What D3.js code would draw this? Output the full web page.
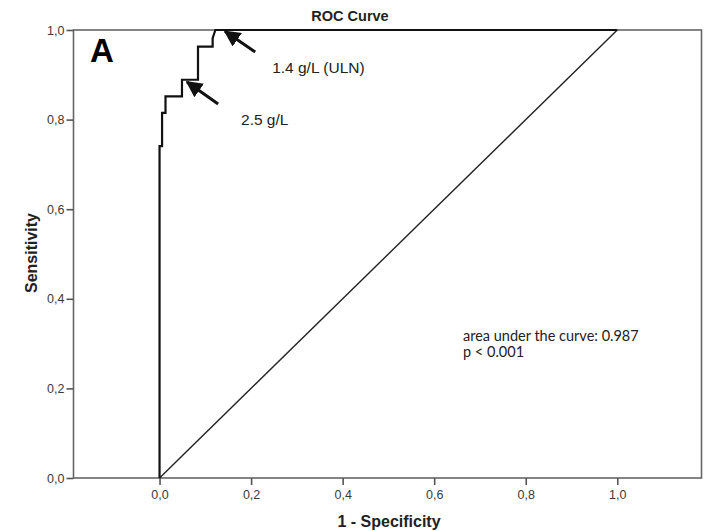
<!DOCTYPE html>
<html>
<head>
<meta charset="utf-8">
<script src="https://cdn.jsdelivr.net/npm/d3@7"></script>
<style>
  html, body { margin: 0; padding: 0; background: #fff; }
  svg { display: block; }
</style>
</head>
<body>
<svg id="chart" width="710" height="531"></svg>
<script>
// ROC curve vertices (1 - specificity, sensitivity)
const rocFpr = [0, 0, 0.0055, 0.0055, 0.013, 0.013, 0.049, 0.049, 0.084, 0.084, 0.116, 0.116, 0.122, 1.0];
const rocTpr = [0, 0.741, 0.741, 0.815, 0.815, 0.852, 0.852, 0.889, 0.889, 0.963, 0.963, 0.982, 1.0, 1.0];

// Reference (chance) line
const refFpr = [0, 1];
const refTpr = [0, 1];

// Tick values
const xTicks = [0, 0.2, 0.4, 0.6, 0.8, 1.0];
const yTicks = [0, 0.2, 0.4, 0.6, 0.8, 1.0];

// Cut-off annotations: arrow tail -> tip, label anchor
const cutLabels = ["1.4 g/L (ULN)", "2.5 g/L"];
const cutTipX = [0.143, 0.060];
const cutTipY = [0.997, 0.884];
const cutTailX = [0.209, 0.128];
const cutTailY = [0.951, 0.835];
const cutLabelX = [0.246, 0.178];
const cutLabelY = [0.905, 0.788];

const statLines = ["area under the curve: 0.987", "p < 0.001"];

const svg = d3.select("#chart");
const x = d3.scaleLinear().domain([-0.188, 1.184]).range([73.5, 701.5]);
const y = d3.scaleLinear().domain([0, 1]).range([478, 30]);
const fmt = d => d.toFixed(1).replace(".", ",");

// Frame
svg.append("rect")
  .attr("x", x.range()[0]).attr("y", y(1))
  .attr("width", x.range()[1] - x.range()[0]).attr("height", y(0) - y(1))
  .attr("fill", "none").attr("stroke", "#666").attr("stroke-width", 1.6);

// Axes
const xAxis = svg.append("g").attr("transform", `translate(0,${y(0)})`)
  .call(d3.axisBottom(x).tickValues(xTicks).tickFormat(fmt).tickSize(7).tickPadding(5));
const yAxis = svg.append("g").attr("transform", `translate(${x.range()[0]},0)`)
  .call(d3.axisLeft(y).tickValues(yTicks).tickFormat(fmt).tickSize(7).tickPadding(2));
[xAxis, yAxis].forEach(g => {
  g.select(".domain").remove();
  g.selectAll(".tick line").attr("stroke", "#555").attr("stroke-width", 1.6);
  g.selectAll(".tick text").attr("fill", "#3a3a3a")
    .style("font-family", "'Liberation Sans', Arial, sans-serif").style("font-size", "12.5px");
});

// Chance diagonal
const line = d3.line().x(d => x(d[0])).y(d => y(d[1]));
svg.append("path")
  .datum(d3.zip(refFpr, refTpr))
  .attr("d", line).attr("fill", "none").attr("stroke", "#222").attr("stroke-width", 1.4);

// ROC curve
svg.append("path")
  .datum(d3.zip(rocFpr, rocTpr))
  .attr("d", line).attr("fill", "none").attr("stroke", "#111").attr("stroke-width", 2.2)
  .attr("stroke-linejoin", "miter");

// Arrow markers
svg.append("defs").append("marker")
  .attr("id", "head").attr("viewBox", "0 0 10 10")
  .attr("refX", 9).attr("refY", 5)
  .attr("markerWidth", 5.5).attr("markerHeight", 5.5)
  .attr("markerUnits", "strokeWidth")
  .attr("orient", "auto")
  .append("path").attr("d", "M0,0 L10,5 L0,10 Z").attr("fill", "#111");

cutLabels.forEach((lab, i) => {
  svg.append("line")
    .attr("x1", x(cutTailX[i])).attr("y1", y(cutTailY[i]))
    .attr("x2", x(cutTipX[i])).attr("y2", y(cutTipY[i]))
    .attr("stroke", "#111").attr("stroke-width", 3)
    .attr("marker-end", "url(#head)");
  svg.append("text")
    .attr("x", x(cutLabelX[i])).attr("y", y(cutLabelY[i]))
    .attr("fill", "#222")
    .style("font-family", "'Liberation Sans', Arial, sans-serif").style("font-size", "15.5px")
    .text(lab);
});

// Statistics text
statLines.forEach((t, i) => {
  svg.append("text")
    .attr("x", x(0.663)).attr("y", y(0.306) + i * 16)
    .attr("fill", "#222")
    .style("font-family", "Lato, 'Open Sans', sans-serif").style("font-size", "14.5px")
    .text(t);
});

// Panel letter
svg.append("text")
  .attr("x", 90).attr("y", 62)
  .attr("fill", "#000")
  .style("font-family", "'Liberation Sans', Arial, sans-serif").style("font-size", "33px").style("font-weight", "bold")
  .text("A");

// Titles
svg.append("text")
  .attr("x", 350).attr("y", 21).attr("text-anchor", "middle").attr("fill", "#222")
  .style("font-family", "'Liberation Sans', Arial, sans-serif").style("font-size", "14.5px").style("font-weight", "bold")
  .text("ROC Curve");
svg.append("text")
  .attr("x", 389).attr("y", 527).attr("text-anchor", "middle").attr("fill", "#222")
  .style("font-family", "'Liberation Sans', Arial, sans-serif").style("font-size", "16px").style("font-weight", "bold")
  .text("1 - Specificity");
svg.append("text")
  .attr("transform", "translate(37,253) rotate(-90)").attr("text-anchor", "middle").attr("fill", "#222")
  .style("font-family", "'Liberation Sans', Arial, sans-serif").style("font-size", "16px").style("font-weight", "bold")
  .text("Sensitivity");
</script>
</body>
</html>
